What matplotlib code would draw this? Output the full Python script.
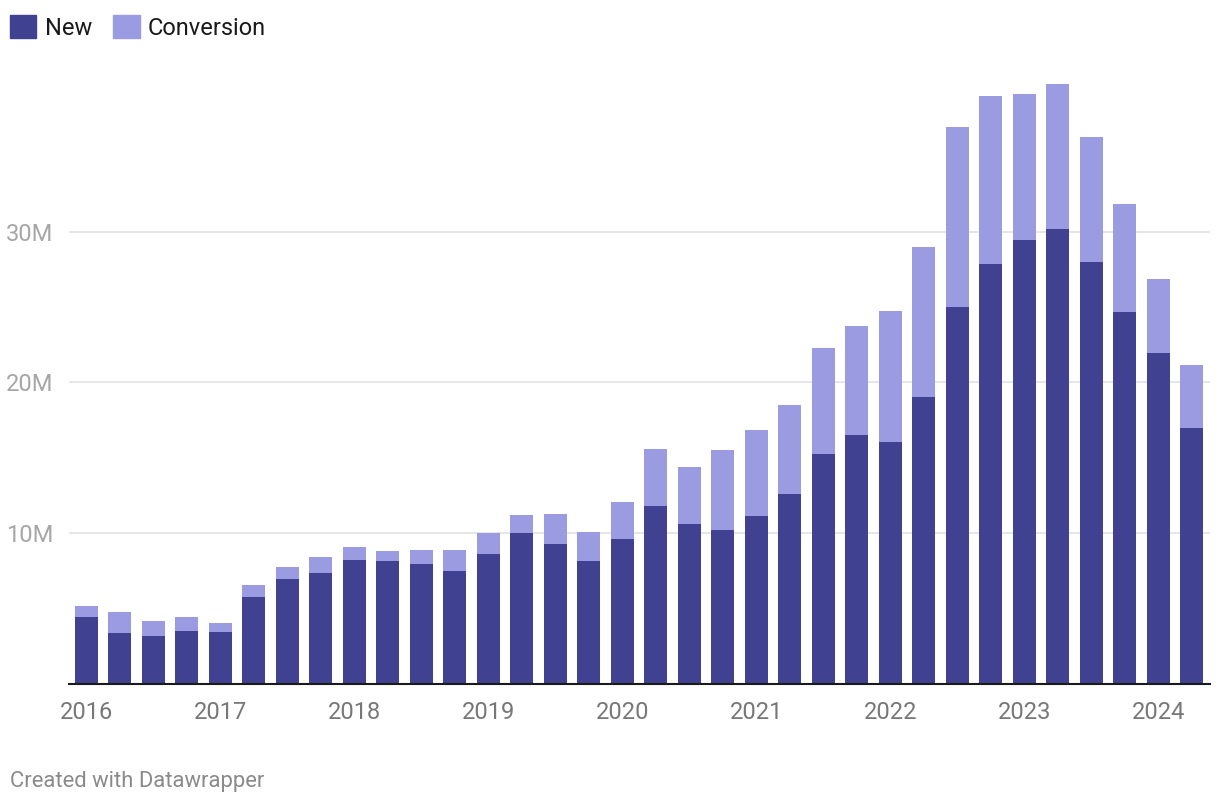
import numpy as np
import matplotlib.pyplot as plt
from matplotlib.patches import Patch

plt.rcParams['font.family'] = ['Roboto', 'DejaVu Sans']

# quarterly values, 2016 Q1 .. 2024 Q2 (millions)
trimestres = ['2016 Q1', '2016 Q2', '2016 Q3', '2016 Q4',
              '2017 Q1', '2017 Q2', '2017 Q3', '2017 Q4',
              '2018 Q1', '2018 Q2', '2018 Q3', '2018 Q4',
              '2019 Q1', '2019 Q2', '2019 Q3', '2019 Q4',
              '2020 Q1', '2020 Q2', '2020 Q3', '2020 Q4',
              '2021 Q1', '2021 Q2', '2021 Q3', '2021 Q4',
              '2022 Q1', '2022 Q2', '2022 Q3', '2022 Q4',
              '2023 Q1', '2023 Q2', '2023 Q3', '2023 Q4',
              '2024 Q1', '2024 Q2']
novos = [4.40, 3.34, 3.14, 3.47, 3.41, 5.73, 6.93, 7.33,
         8.19, 8.12, 7.92, 7.48, 8.59, 9.98, 9.25, 8.12,
         9.58, 11.77, 10.58, 10.18, 11.11, 12.57, 15.26, 16.50,
         16.04, 19.02, 25.00, 27.86, 29.45, 30.16, 27.98, 24.66,
         21.94, 16.98]
totais = [5.13, 4.73, 4.14, 4.40, 4.00, 6.53, 7.72, 8.39,
          9.05, 8.79, 8.85, 8.85, 9.98, 11.18, 11.24, 10.05,
          12.04, 15.56, 14.36, 15.49, 16.82, 18.48, 22.28, 23.72,
          24.75, 28.97, 36.93, 39.00, 39.12, 39.80, 36.28, 31.84,
          26.84, 21.16]
conversao = [t - n for t, n in zip(totais, novos)]

anos = ['2016', '2017', '2018', '2019', '2020', '2021', '2022', '2023', '2024']
y_ticks = [10, 20, 30]
y_labels = ['10M', '20M', '30M']

cor_novo = '#404190'
cor_conv = '#9b9be1'

fig = plt.figure(figsize=(12.2, 8.08), dpi=100)
ax = fig.add_axes([69 / 1220, 124.5 / 808, 1141 / 1220, 602.4 / 808])

x = np.arange(len(trimestres))
ax.bar(x, novos, width=0.69, color=cor_novo, zorder=3)
ax.bar(x, conversao, bottom=novos, width=0.69, color=cor_conv, zorder=3)

ax.set_xlim(-0.52, 33.54)
ax.set_ylim(0, 40)

ax.set_xticks(x[::4])
ax.set_xticklabels(anos)
ax.set_yticks(y_ticks)
ax.set_yticklabels(y_labels)
ax.tick_params(axis='x', length=0, pad=12.5, labelsize=17, labelcolor='#777777')
ax.tick_params(axis='y', length=0, pad=11, labelsize=17, labelcolor='#a6a6a6')

ax.yaxis.grid(True, color='#e6e6e6', linewidth=1.4, zorder=0)
for s in ['top', 'right', 'left']:
    ax.spines[s].set_visible(False)
ax.spines['bottom'].set_color('#1a1a1a')
ax.spines['bottom'].set_linewidth(1.5)
ax.spines['bottom'].set_zorder(4)

handles = [Patch(color=cor_novo, label='New'), Patch(color=cor_conv, label='Conversion')]
fig.legend(handles=handles, loc='upper left', bbox_to_anchor=(10 / 1220, 1 - 15 / 808),
           ncol=2, frameon=False, fontsize=17, handlelength=1.12, handleheight=1.15,
           handletextpad=0.35, columnspacing=0.9, borderpad=0, borderaxespad=0,
           labelcolor='#1a1a1a')

fig.text(10 / 1220, 1 - 782 / 808, 'Created with Datawrapper', fontsize=15.8,
         color='#8a8a8a', va='center', ha='left')

plt.savefig('out.png', dpi=100)
